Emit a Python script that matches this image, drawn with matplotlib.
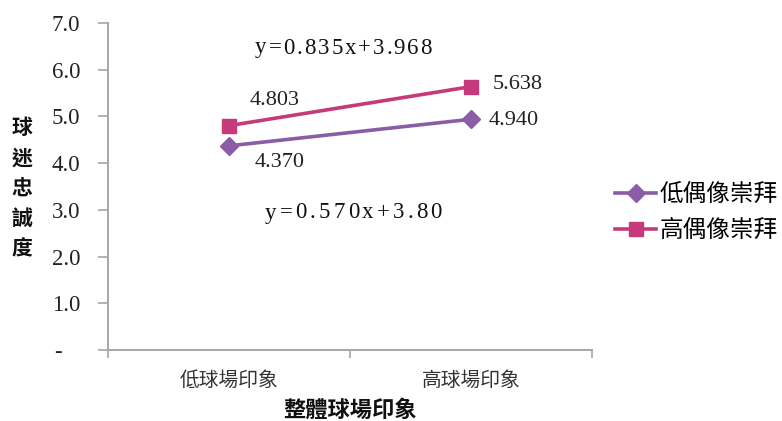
import matplotlib
matplotlib.use("Agg")
import matplotlib.pyplot as plt

categories = ["低球場印象", "高球場印象"]
series_names = ["低偶像崇拜", "高偶像崇拜"]
low_idol = [4.370, 4.940]
high_idol = [4.803, 5.638]
yticks = [0, 1, 2, 3, 4, 5, 6, 7]
ytick_labels = ["-   ", "1.0", "2.0", "3.0", "4.0", "5.0", "6.0", "7.0"]
eq_high = "y=0.835x+3.968"
eq_low = "y=0.570x+3.80"
xlabel = "整體球場印象"
ylabel = "球迷忠誠度"

CJK = ["Noto Sans CJK TC", "DejaVu Sans"]
SERIF = ["Liberation Serif", "DejaVu Serif"]
purple = "#8A5DA6"
pink = "#C63A7C"
gray = "#A6A6A6"
W, H, DPI = 782, 421, 100

fig = plt.figure(figsize=(W / DPI, H / DPI), dpi=DPI)
ax = fig.add_axes([108/W, 1-350/H, (592-108)/W, (350-23)/H])

xs = [0.5, 1.5]
l1, = ax.plot(xs, low_idol, color=purple, lw=2.6, marker="D", ms=9, label=series_names[0])
l2, = ax.plot(xs, high_idol, color=pink, lw=2.6, marker="s", ms=10.5, label=series_names[1])

ax.set_xlim(0, 2)
ax.set_ylim(0, 7)
ax.set_yticks(yticks)
ax.set_yticklabels(ytick_labels, family=SERIF, fontsize=16.5, color="#222222")
ax.set_xticks([0, 1, 2])
ax.set_xticklabels(["", "", ""])
ax.set_xticks(xs, minor=True)
ax.set_xticklabels(categories, minor=True, family=CJK, fontsize=14.2, color="#333333")
ax.tick_params(axis="x", which="minor", length=0, pad=14)
ax.tick_params(axis="x", which="major", length=6, color=gray, width=1.2)
ax.tick_params(axis="y", length=7, color=gray, width=1.2, pad=13)
for s in ["top", "right"]:
    ax.spines[s].set_visible(False)
for s in ["left", "bottom"]:
    ax.spines[s].set_color(gray)
    ax.spines[s].set_linewidth(1.4)

# data labels
lab_kw = dict(textcoords="offset pixels", ha="center", va="center", family=SERIF,
              fontsize=16, color="#222222")
ax.annotate(f"{high_idol[0]:.3f}", (xs[0], high_idol[0]), xytext=(46, 25), **lab_kw)
ax.annotate(f"{low_idol[0]:.3f}", (xs[0], low_idol[0]), xytext=(51, -17), **lab_kw)
ax.annotate(f"{high_idol[1]:.3f}", (xs[1], high_idol[1]), xytext=(47, 2), **lab_kw)
ax.annotate(f"{low_idol[1]:.3f}", (xs[1], low_idol[1]), xytext=(43, -1), **lab_kw)

# Times-style advance widths (em units) used for letter-spaced equation text
ADV = {".": 0.25, "=": 0.564, "+": 0.564, "x": 0.5, "y": 0.5}


def spaced_text(s, x0, x1, yc, size):
    """Draw a string with letter spacing so it spans pixels x0..x1."""
    em = size * DPI / 72.0
    adv = [ADV.get(c, 0.5) * em for c in s]
    extra = ((x1 - x0) - sum(adv)) / (len(s) - 1)
    x = x0
    for c, a in zip(s, adv):
        fig.text((x + a / 2) / W, 1 - yc / H, c, ha="center", va="center", family=SERIF,
                 fontsize=size, color="#111111")
        x += a + extra


spaced_text(eq_high, 255, 432, 48, 16.5)
spaced_text(eq_low, 265, 442, 213, 16.5)

# axis labels
fig.text(350/W, 1-410/H, xlabel, ha="center", va="center", family=CJK, fontsize=16,
         fontweight="bold", color="#111111")
fig.text(22/W, 1-188/H, "\n".join(ylabel), ha="center", va="center", family=CJK, fontsize=15,
         fontweight="bold", color="#111111", linespacing=1.55)

fig.legend(handles=[l1, l2], loc="upper left", bbox_to_anchor=(615/W, 1-183/H),
           frameon=False, borderpad=0, borderaxespad=0, handlelength=1.75, handletextpad=0.15,
           labelspacing=0.55, prop={"family": CJK, "size": 17})

fig.savefig("out.png", dpi=DPI)
